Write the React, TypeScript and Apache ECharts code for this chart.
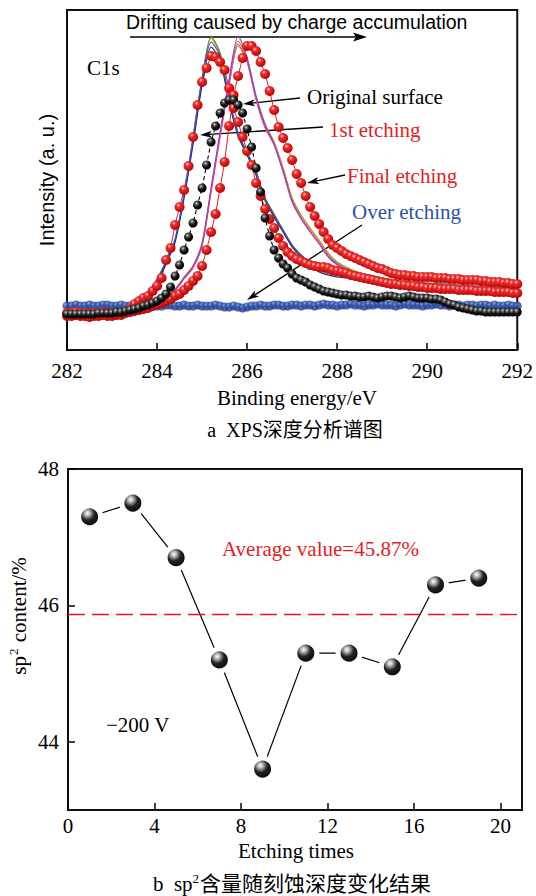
import React, { useEffect, useRef } from "react";
import * as echarts from "echarts";

// ---------- (a) XPS C1s depth profile ----------
// Intensity in arbitrary units, sampled every 0.1 eV from 282.0 eV (dotted scans)
const originalSurface = [
  36, 36, 36, 36, 36, 36, 36, 37, 37, 37, 37, 38, 38, 39, 40, 41, 42, 44, 45, 47,
  49, 52, 56, 63, 74, 85, 100, 113, 127, 145, 162, 185, 208, 224, 237, 247, 250, 250, 245, 237,
  221, 203, 182, 158, 132, 114, 100, 92, 86, 82, 76, 72, 70, 68, 65, 63, 61, 59, 58, 57,
  56, 55, 55, 54, 54, 53, 53, 54, 53, 52, 53, 54, 54, 53, 52, 53, 54, 53, 52, 52,
  52, 51, 51, 50, 48, 46, 45, 43, 42, 41, 40, 39, 39, 38, 38, 38, 38, 38, 38, 38, 38,
];
const firstEtching = [
  34, 34, 35, 34, 34, 33, 34, 34, 35, 34, 34, 35, 35,
  37, 41, 46, 49, 52, 54, 59, 64, 72, 90,
  102, 125, 143, 160, 184, 213, 245, 268, 282, 294,
  293, 288, 280, 262, 242, 228, 213, 199, 185, 167,
  154, 141, 131, 122, 112, 104, 98, 94, 91, 89,
  87, 85, 84, 83, 83,
  82, 80, 79, 78, 77, 75, 74, 73, 72, 71,
  70, 69, 68, 67, 66, 66, 65, 65, 64, 64,
  63, 63, 62, 62, 62, 61, 61, 61, 61, 60,
  60, 60, 60, 59, 59, 59, 59, 58, 58, 58,
  58, 57, 57,
];
const finalEtching = [
  37, 37, 38, 37, 37, 36, 37, 37, 38, 37, 37, 37, 38, 38, 38,
  39, 40, 41, 42, 44, 46, 47, 49, 51, 54,
  56, 60, 64, 69, 74, 84, 100, 118, 136, 162,
  188, 224, 255, 274, 292, 304, 304, 299, 288, 276,
  259, 240, 223, 212, 202, 190, 176, 167, 154, 143,
  134, 126, 118, 111, 105,
  102, 99, 96, 94, 92, 90, 88, 86, 84, 82,
  81, 79, 77, 76, 75, 75, 74, 74, 73, 73,
  73, 73, 72, 72, 72, 71, 71, 71, 70, 70,
  70, 70, 69, 69, 68, 68, 68, 67, 67, 66,
  66,
];
const overEtching = [
  44, 44, 45, 44, 44, 45, 44, 44, 45, 45, 44,
  44, 45, 44, 44, 45, 45, 44, 45, 44, 44,
  44, 45, 45, 44, 44, 45, 44, 44, 45, 44,
  44, 44, 45, 44, 43, 43, 44, 43, 42, 43,
  44, 44, 45, 44, 44, 45, 45, 44, 44, 45,
  45, 44, 45, 45, 44, 45, 46, 45, 45, 44,
  45, 45, 46, 45, 45, 44, 45, 45, 46, 45,
  45, 45, 44, 45, 46, 45, 45, 45, 44, 45,
  45, 46, 45, 45, 44, 45, 45, 44, 45, 45,
  44, 45, 45, 44, 45, 44, 44, 45, 44, 44,
];

// Intermediate etching scans, sampled every 0.2 eV from 282.0 eV
const scanA1 = [34, 34, 33, 34, 35, 35, 36, 39, 46, 55, 68, 86, 108, 152, 206, 265, 303, 290, 248, 214, 195, 175, 150, 133, 118, 103, 93, 85, 78, 75, 73, 72, 71, 70, 69, 68, 67, 67, 66, 66, 65, 65, 64, 64, 63, 63, 62, 62, 61, 61, 60];
const scanA2 = [34, 35, 34, 35, 35, 36, 37, 40, 48, 57, 71, 89, 111, 156, 211, 271, 308, 294, 251, 216, 197, 177, 151, 135, 120, 105, 95, 87, 80, 77, 75, 74, 73, 72, 71, 70, 69, 68, 68, 67, 67, 66, 66, 65, 65, 64, 64, 63, 63, 62, 62];
const scanA3 = [35, 34, 35, 35, 36, 36, 37, 41, 47, 56, 70, 88, 110, 155, 212, 272, 312, 296, 252, 215, 196, 176, 149, 134, 119, 104, 94, 86, 79, 76, 74, 73, 72, 71, 70, 69, 68, 67, 67, 66, 66, 65, 65, 64, 64, 63, 63, 62, 62, 62, 61];
const scanA4 = [34, 34, 34, 35, 35, 36, 38, 40, 46, 56, 69, 87, 109, 154, 209, 270, 314, 297, 253, 217, 198, 178, 152, 136, 120, 105, 95, 87, 80, 77, 75, 74, 72, 72, 71, 70, 69, 68, 67, 67, 66, 66, 65, 65, 64, 64, 63, 63, 62, 62, 61];
const scanB1 = [36, 36, 37, 36, 37, 37, 38, 39, 41, 44, 48, 53, 60, 72, 84, 106, 162, 218, 271, 314, 292, 253, 225, 206, 179, 149, 132, 119, 107, 94, 86, 81, 77, 74, 72, 70, 69, 68, 67, 66, 66, 65, 65, 64, 63, 63, 62, 62, 61, 61, 60];
const scanB2 = [36, 36, 36, 36, 37, 37, 38, 39, 41, 43, 47, 52, 59, 71, 82, 104, 158, 213, 265, 306, 288, 250, 222, 205, 178, 148, 131, 118, 106, 93, 85, 80, 76, 74, 72, 70, 69, 68, 67, 67, 66, 65, 65, 64, 64, 63, 63, 62, 62, 61, 61];
const scanB3 = [37, 36, 36, 37, 37, 38, 38, 40, 42, 45, 49, 54, 61, 73, 84, 107, 161, 216, 269, 309, 291, 254, 226, 208, 182, 152, 135, 122, 110, 97, 88, 83, 79, 76, 74, 72, 71, 70, 69, 68, 67, 67, 66, 65, 65, 64, 64, 63, 63, 62, 62];
const scanB4 = [36, 36, 36, 37, 37, 37, 38, 39, 41, 44, 48, 53, 60, 72, 83, 105, 159, 214, 266, 304, 289, 251, 223, 207, 181, 151, 134, 121, 109, 96, 87, 82, 78, 75, 73, 71, 70, 69, 68, 67, 66, 66, 65, 64, 64, 63, 63, 62, 62, 61, 61];

// drawn back to front: the navy/blue and purple/pink traces end up on top
const scanSet = [scanA3, scanA4, scanB3, scanB4, scanA1, scanA2, scanB2, scanB1];
const scanColors = ["#e8821e", "#4e9a2a", "#8fa01e", "#d49b1c", "#1f1f7a", "#3355cc", "#e0469b", "#9b3fc0"];
const energyStart = 282;
const energyTicks = [282, 284, 286, 288, 290, 292];

// ---------- (b) sp2 content vs etching times ----------
const etchingTimes = [1, 3, 5, 7, 9, 11, 13, 15, 17, 19];
const sp2Content = [47.3, 47.5, 46.7, 45.2, 43.6, 45.3, 45.3, 45.1, 46.3, 46.4];
const averageSp2 = 45.87;
const timeTicks = [0, 4, 8, 12, 16, 20];
const contentTicks = [44, 46, 48];

const SERIF = '"Liberation Serif", "Times New Roman", serif';
const SANS = '"Liberation Sans", Arial, sans-serif';
const CJK = '"Liberation Serif", "Noto Sans CJK SC", serif';
const RED = "#e31e24";
const BLUE = "#2a52a8";

const onGrid = (values: number[], step: number) =>
  values.map((v, i) => [Number((energyStart + i * step).toFixed(1)), v]);

const sphere = (stops: [number, string][], cx = 0.38, cy = 0.32, r = 0.7) =>
  new echarts.graphic.RadialGradient(
    cx,
    cy,
    r,
    stops.map(([offset, color]) => ({ offset, color }))
  );

function arrow(x1: number, y1: number, x2: number, y2: number, head = 12, half = 3.6) {
  const dx = x2 - x1;
  const dy = y2 - y1;
  const len = Math.hypot(dx, dy);
  const ux = dx / len;
  const uy = dy / len;
  const bx = x2 - ux * head;
  const by = y2 - uy * head;
  return [
    {
      type: "line",
      silent: true,
      shape: { x1, y1, x2: bx + ux * 3, y2: by + uy * 3 },
      style: { stroke: "#000", lineWidth: 1.3 },
    },
    {
      type: "polygon",
      silent: true,
      shape: {
        points: [
          [x2, y2],
          [bx - uy * half, by + ux * half],
          [bx + ux * 3, by + uy * 3],
          [bx + uy * half, by - ux * half],
        ],
      },
      style: { fill: "#000" },
    },
  ];
}

function label(text: string, x: number, y: number, color = "#000", font = SERIF, size = 21, align = "left", rotation = 0) {
  return {
    type: "text",
    silent: true,
    x,
    y,
    rotation,
    style: {
      text,
      fill: color,
      fontFamily: font,
      fontSize: size,
      align,
      verticalAlign: "middle",
      textAlign: align,
      textVerticalAlign: "middle",
    },
  };
}

function buildOption() {
  const redDot = sphere([[0, "#ffd6d6"], [0.28, "#f03030"], [1, "#b50000"]]);
  const blackDot = sphere([[0, "#e8e8e8"], [0.2, "#6a6a6a"], [0.55, "#111"], [1, "#000"]]);
  const blueDot = sphere([[0, "#8fa6de"], [0.3, "#2d52ad"], [1, "#1c3888"]]);
  const bigSphere = sphere([[0, "#ffffff"], [0.16, "#bdbdbd"], [0.45, "#222"], [1, "#000"]], 0.4, 0.34, 0.7);

  const dotted = (name: string, values: number[], color: any, size: number, lineStyle: any) => ({
    type: "line",
    name,
    xAxisIndex: 0,
    yAxisIndex: 0,
    data: onGrid(values, 0.1),
    symbol: "circle",
    symbolSize: size,
    showSymbol: true,
    showAllSymbol: true,
    silent: true,
    itemStyle: { color },
    lineStyle,
  });

  const scans = scanSet.map((values, i) => ({
    type: "line",
    xAxisIndex: 0,
    yAxisIndex: 0,
    data: onGrid(values, 0.2),
    symbol: "none",
    smooth: 0.25,
    silent: true,
    lineStyle: { color: scanColors[i], width: 1.2 },
  }));

  const tickLine = { lineStyle: { color: "#000", width: 1.5 } };

  return {
    animation: false,
    backgroundColor: "#ffffff",
    grid: [
      { left: 67, top: 10, width: 454, height: 340, show: true, borderColor: "#111", borderWidth: 2, backgroundColor: "transparent" },
      { left: 68, top: 469, width: 454, height: 341, show: true, borderColor: "#111", borderWidth: 2, backgroundColor: "transparent" },
    ],
    xAxis: [
      {
        gridIndex: 0,
        type: "value",
        min: 282,
        max: 292,
        interval: 2,
        axisLine: { show: false },
        axisTick: { inside: true, length: 7, customValues: energyTicks, ...tickLine },
        axisLabel: { customValues: energyTicks, color: "#000", fontFamily: SERIF, fontSize: 21, margin: 10 },
        splitLine: { show: false },
      },
      {
        gridIndex: 1,
        type: "value",
        min: 0,
        max: 21,
        axisLine: { show: false },
        axisTick: { inside: true, length: 7, customValues: timeTicks, ...tickLine },
        axisLabel: { customValues: timeTicks, color: "#000", fontFamily: SERIF, fontSize: 21, margin: 5 },
        splitLine: { show: false },
      },
    ],
    yAxis: [
      {
        gridIndex: 0,
        type: "value",
        min: 0,
        max: 340,
        axisLine: { show: false },
        axisTick: { show: false },
        axisLabel: { show: false },
        splitLine: { show: false },
      },
      {
        gridIndex: 1,
        type: "value",
        min: 43,
        max: 48,
        axisLine: { show: false },
        axisTick: { inside: true, length: 7, customValues: contentTicks, ...tickLine },
        axisLabel: { customValues: contentTicks, color: "#000", fontFamily: SERIF, fontSize: 21, margin: 9 },
        splitLine: { show: false },
      },
    ],
    series: [
      dotted("1st etching", firstEtching, redDot, 10, { color: RED, width: 1 }),
      dotted("Final etching", finalEtching, redDot, 10, { color: RED, width: 1 }),
      dotted("Original surface", originalSurface, blackDot, 9, { color: "#000", width: 1.1, type: [4, 3] }),
      ...scans,
      {
        type: "scatter",
        name: "Over etching",
        xAxisIndex: 0,
        yAxisIndex: 0,
        data: onGrid(overEtching, 0.1),
        symbol: "circle",
        symbolSize: 9,
        silent: true,
        itemStyle: { color: blueDot },
      },
      {
        type: "line",
        name: "sp2 content",
        xAxisIndex: 1,
        yAxisIndex: 1,
        data: etchingTimes.map((t, i) => [t, sp2Content[i]]),
        symbol: "circle",
        symbolSize: 22,
        silent: true,
        itemStyle: { color: bigSphere, borderColor: "#ffffff", borderWidth: 5 },
        lineStyle: { color: "#000", width: 1.2 },
        markLine: {
          silent: true,
          symbol: "none",
          label: { show: false },
          lineStyle: { color: "#e8141c", width: 1.4, type: [17, 7] },
          data: [{ yAxis: averageSp2 }],
        },
        z: 3,
      },
    ],
    graphic: [
      // panel (a) annotations
      label("Drifting caused by charge accumulation", 126, 22, "#000", SANS, 19.5),
      ...arrow(130, 37, 367, 37, 14, 4.5),
      label("C1s", 87, 68),
      label("Original surface", 307, 97),
      ...arrow(300, 98, 243, 104),
      label("1st etching", 329, 130, RED),
      ...arrow(323, 127, 200, 135),
      label("Final etching", 347, 176, RED),
      ...arrow(345, 175, 307, 183),
      label("Over etching", 352, 212, BLUE),
      ...arrow(362, 225, 247, 300),
      label("Intensity (a. u.)", 47, 180, "#000", SANS, 20, "center", Math.PI / 2),
      label("Binding energy/eV", 297, 398, "#000", SERIF, 21, "center"),
      label("a  XPS深度分析谱图", 295, 430, "#000", CJK, 20, "center"),
      // panel (b) annotations
      label(`Average value=${averageSp2.toFixed(2)}%`, 222, 549, RED),
      label("\u2212200 V", 106, 725),
      label("Etching times", 296, 851, "#000", SERIF, 21, "center"),
      {
        type: "text",
        silent: true,
        x: 19,
        y: 616,
        rotation: Math.PI / 2,
        style: {
          text: "{a|sp}{s|2}{a| content/%}",
          align: "center",
          verticalAlign: "middle",
          textAlign: "center",
          textVerticalAlign: "middle",
          rich: {
            a: { fontFamily: SERIF, fontSize: 21, color: "#000", lineHeight: 24 },
            s: { fontFamily: SERIF, fontSize: 13, color: "#000", lineHeight: 24, verticalAlign: "top", padding: [0, 1, 8, 1] },
          },
        },
      },
      {
        type: "text",
        silent: true,
        x: 292,
        y: 884,
        style: {
          text: "{a|b  sp}{s|2}{c|含量随刻蚀深度变化结果}",
          align: "center",
          verticalAlign: "middle",
          textAlign: "center",
          textVerticalAlign: "middle",
          rich: {
            a: { fontFamily: SERIF, fontSize: 21, color: "#000", lineHeight: 24 },
            s: { fontFamily: SERIF, fontSize: 13, color: "#000", lineHeight: 24, verticalAlign: "top", padding: [0, 1, 8, 0] },
            c: { fontFamily: CJK, fontSize: 21, color: "#000", lineHeight: 24 },
          },
        },
      },
    ],
  };
}

export default function App() {
  const ref = useRef<HTMLDivElement>(null);
  useEffect(() => {
    if (!ref.current) return;
    const chart = echarts.init(ref.current, null, { renderer: "svg" });
    chart.setOption(buildOption() as any);
    return () => chart.dispose();
  }, []);
  return (
    <div
      ref={ref}
      style={{ position: "absolute", left: 0, top: 0, width: 536, height: 896, background: "#ffffff" }}
    />
  );
}
